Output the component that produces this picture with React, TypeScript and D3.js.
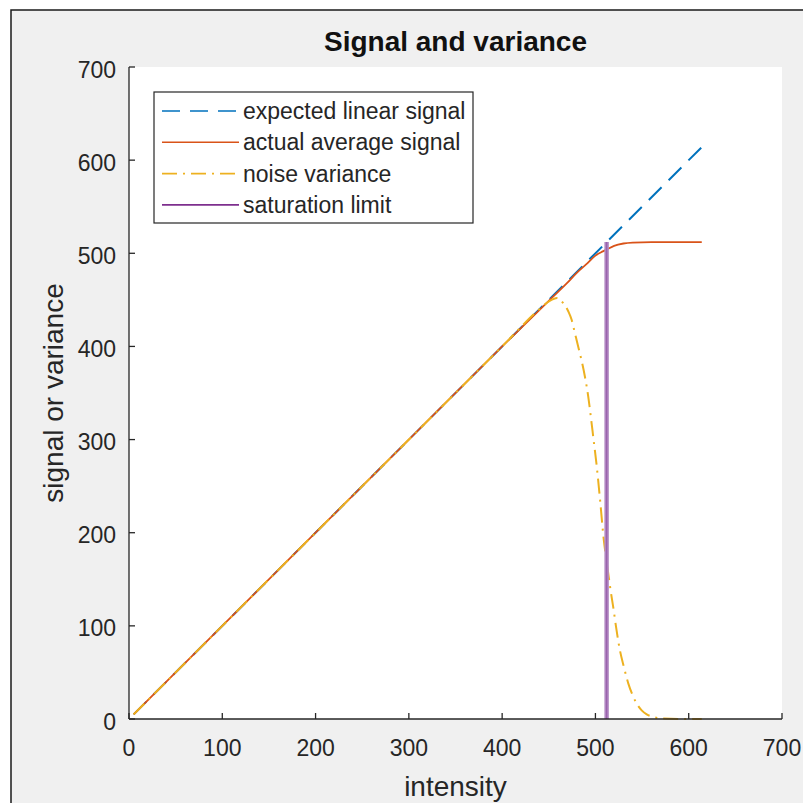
import React from "react";
import * as d3 from "d3";

// ---- data ----
const tickValues = [0, 100, 200, 300, 400, 500, 600, 700];

const expectedX = [5, 614];
const expectedY = [5, 614];

const actualX = [5, 100, 200, 300, 400, 450, 470, 480, 490, 500, 508, 512, 520, 530, 540, 560, 614];
const actualY = [5, 100, 200, 300, 400, 449, 468.5, 479, 488, 497.5, 502, 504, 508, 510.5, 511.5, 512, 512];

const noiseX = [5, 100, 200, 300, 400, 440, 451, 459, 465.5, 471, 474.5, 478, 481.5, 485, 488.7, 492.3, 495, 498, 501, 505, 509, 511.3, 513.7, 516.2, 519, 522.6, 526.2, 530.5, 535.2, 540, 544.3, 549.6, 555, 562, 572.5, 589, 614];
const noiseY = [5, 100, 200, 300, 400, 440, 449, 452, 446.5, 437.5, 428.6, 414.3, 400, 385.6, 367.7, 346.2, 325, 300, 275, 235, 192, 174, 156.5, 138.6, 120.6, 95.6, 74, 56, 38.2, 25.3, 16.4, 9.3, 5, 2.2, 0.5, 0, 0];

const saturationX = [512, 512];
const saturationY = [0, 512];

const seriesNames = ["expected linear signal", "actual average signal", "noise variance", "saturation limit"];
const seriesColors = ["#0072BD", "#D95319", "#EDB120", "#7E2F8E"];
const seriesDash = ["18,10", null, "15,6,2,6", null];

const titleText = "Signal and variance";
const xLabel = "intensity";
const yLabel = "signal or variance";

export default function App() {
  const W = 803, H = 803;
  const x = d3.scaleLinear().domain([0, 700]).range([129, 782]);
  const y = d3.scaleLinear().domain([0, 700]).range([719, 67]);
  const font = "'Liberation Sans', Arial, sans-serif";
  const axisColor = "#262626";

  const zip = (xs: number[], ys: number[]) => xs.map((v, i) => [v, ys[i]] as [number, number]);
  const lineGen = d3.line<[number, number]>().x(d => x(d[0])).y(d => y(d[1]));
  const smooth = d3.line<[number, number]>().x(d => x(d[0])).y(d => y(d[1])).curve(d3.curveMonotoneX);

  const expectedPath = lineGen(zip(expectedX, expectedY)) || "";
  const actualPath = smooth(zip(actualX, actualY)) || "";
  const noisePath = smooth(zip(noiseX, noiseY)) || "";
  const satPath = lineGen(zip(saturationX, saturationY)) || "";

  const [x0, x1] = x.range();
  const [y0, y1] = y.range();

  const legend = { left: 154, top: 92, right: 473, bottom: 223, row0: 111, rowStep: 31.3, lineX0: 162, lineX1: 239, textX: 243 };

  return (
    <svg width={W} height={H} style={{ position: "absolute", left: 0, top: 0 }} fontFamily={font}>
      <rect x={0} y={0} width={W} height={H} fill="#ffffff" />
      <rect x={11} y={10} width={820} height={820} fill="#f0f0f0" stroke="#1a1a1a" strokeWidth={1.5} />
      {/* plot area */}
      <rect x={x0} y={y1} width={x1 - x0} height={y0 - y1} fill="#ffffff" />

      {/* lines */}
      <path d={expectedPath} fill="none" stroke={seriesColors[0]} strokeWidth={2} strokeDasharray={seriesDash[0] as string} />
      <path d={actualPath} fill="none" stroke={seriesColors[1]} strokeWidth={1.8} />
      <path d={noisePath} fill="none" stroke={seriesColors[2]} strokeWidth={2} strokeDasharray={seriesDash[2] as string} />
      <path d={satPath} fill="none" stroke="#b48cc4" strokeWidth={4.5} />
      <path d={satPath} fill="none" stroke="#9a62ad" strokeWidth={1.5} />

      {/* axes */}
      <line x1={x0} x2={x1} y1={y0} y2={y0} stroke={axisColor} strokeWidth={1.3} />
      <line x1={x0} x2={x0} y1={y0} y2={y1} stroke={axisColor} strokeWidth={1.3} />
      {tickValues.map(t => (
        <g key={"xt" + t}>
          <line x1={x(t)} x2={x(t)} y1={y0} y2={y0 - 6} stroke={axisColor} strokeWidth={1.3} />
          <text x={x(t)} y={756} textAnchor="middle" fontSize={23} fill={axisColor}>{t}</text>
        </g>
      ))}
      {tickValues.map(t => (
        <g key={"yt" + t}>
          <line x1={x0} x2={x0 + 6} y1={y(t)} y2={y(t)} stroke={axisColor} strokeWidth={1.3} />
          <text x={116} y={y(t) + 10.5} textAnchor="end" fontSize={23} fill={axisColor}>{t}</text>
        </g>
      ))}

      {/* title & labels */}
      <text x={(x0 + x1) / 2} y={51} textAnchor="middle" fontSize={28} fontWeight="bold" fill="#111">{titleText}</text>
      <text x={(x0 + x1) / 2} y={796} textAnchor="middle" fontSize={28} fill={axisColor}>{xLabel}</text>
      <text transform={`translate(63,${(y0 + y1) / 2}) rotate(-90)`} textAnchor="middle" fontSize={28} fill={axisColor}>{yLabel}</text>

      {/* legend */}
      <rect x={legend.left} y={legend.top} width={legend.right - legend.left} height={legend.bottom - legend.top} fill="#ffffff" stroke={axisColor} strokeWidth={1.2} />
      {seriesNames.map((name, i) => {
        const ry = legend.row0 + i * legend.rowStep;
        return (
          <g key={name}>
            <line x1={legend.lineX0} x2={legend.lineX1} y1={ry} y2={ry} stroke={seriesColors[i]} strokeWidth={1.6} strokeDasharray={seriesDash[i] ? (seriesDash[i] as string) : undefined} />
            <text x={legend.textX} y={ry + 8} fontSize={23} fill={axisColor}>{name}</text>
          </g>
        );
      })}
    </svg>
  );
}
